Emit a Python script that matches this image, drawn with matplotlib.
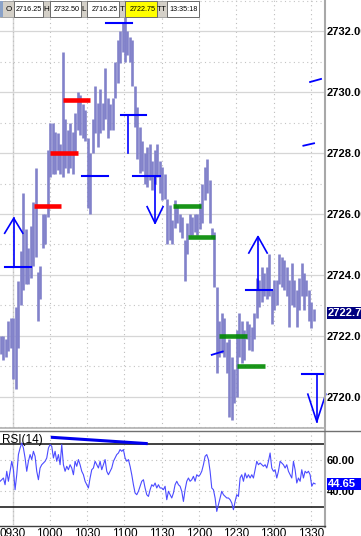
import numpy as np
import matplotlib
matplotlib.use("Agg")
import matplotlib.pyplot as plt
from matplotlib.lines import Line2D
from matplotlib.patches import Rectangle
import matplotlib.transforms as mtransforms

plt.rcParams['font.family'] = ['Liberation Sans', 'DejaVu Sans']

# ---------------- data ----------------
bar_first_time = 560.5      # minutes after midnight (09:20:30)
bar_minutes = 2.0
bar_high = [2722.0, 2722.0, 2721.9, 2722.5, 2722.6, 2722.6, 2722.95, 2723.8, 2724.8, 2726.7,
            2725.5, 2724.9, 2725.6, 2726.4, 2727.5, 2724.1, 2724.3, 2726.0, 2726.0, 2728.1,
            2729.0, 2729.0, 2728.7, 2728.65, 2728.3, 2731.3, 2729.1, 2728.75, 2729.0, 2728.7,
            2729.3, 2730.0, 2729.9, 2729.6, 2729.4, 2728.5, 2728.0, 2729.1, 2730.2, 2729.65,
            2730.1, 2729.65, 2730.8, 2729.8, 2729.6, 2729.8, 2731.0, 2731.7, 2732.0, 2732.25,
            2732.5, 2732.0, 2731.8, 2731.7, 2730.2, 2729.5, 2728.85, 2728.4, 2728.0, 2728.2,
            2728.3, 2727.75, 2728.1, 2728.3, 2727.75, 2727.55, 2727.3, 2726.5, 2726.3, 2725.8,
            2726.45, 2726.3, 2726.0, 2725.9, 2725.15, 2725.7, 2726.0, 2725.9, 2726.0, 2726.0,
            2726.35, 2727.0, 2727.55, 2727.8, 2727.1, 2725.55, 2725.4, 2723.6, 2722.5, 2722.75,
            2722.6, 2721.8, 2721.9, 2721.3, 2720.9, 2722.2, 2722.75, 2722.5, 2722.2, 2722.5,
            2722.4, 2722.3, 2722.75, 2723.9, 2723.85, 2724.25, 2724.05, 2724.25, 2724.7, 2723.5,
            2723.85, 2723.85, 2724.7, 2724.6, 2724.5, 2724.25, 2723.85, 2724.4, 2723.85, 2723.5,
            2723.9, 2724.4, 2724.05, 2723.85, 2723.5, 2723.1, 2722.9]
bar_low = [2721.4, 2721.2, 2721.3, 2721.5, 2721.6, 2720.6, 2720.25, 2721.6, 2723.0, 2723.5,
           2723.7, 2723.7, 2723.9, 2724.3, 2724.6, 2722.5, 2723.2, 2724.9, 2725.0, 2725.9,
           2727.2, 2727.3, 2727.3, 2727.45, 2727.3, 2727.2, 2727.5, 2727.35, 2727.5, 2727.3,
           2728.0, 2728.75, 2728.6, 2728.5, 2728.4, 2726.2, 2726.0, 2728.0, 2728.65, 2728.2,
           2728.65, 2728.75, 2729.1, 2728.5, 2728.75, 2728.75, 2729.8, 2730.3, 2730.95, 2731.3,
           2731.0, 2731.2, 2731.0, 2730.2, 2728.85, 2727.8, 2727.35, 2727.4, 2727.0, 2726.9,
           2727.1, 2726.8, 2727.0, 2727.2, 2726.7, 2726.45, 2726.5, 2725.0, 2725.15, 2725.0,
           2725.55, 2725.7, 2725.4, 2725.2, 2723.8, 2724.7, 2725.3, 2725.3, 2725.4, 2725.3,
           2725.5, 2725.7, 2726.45, 2726.7, 2725.7, 2725.2, 2723.6, 2720.8, 2721.3, 2721.45,
           2721.3, 2720.8, 2719.35, 2719.25, 2719.8, 2720.0, 2721.3, 2721.1, 2721.2, 2721.9,
           2721.55, 2721.5, 2721.9, 2722.6, 2722.95, 2723.1, 2723.3, 2723.2, 2723.3, 2722.4,
           2722.85, 2723.0, 2723.7, 2723.6, 2723.5, 2723.3, 2722.3, 2723.0, 2722.95, 2722.3,
           2722.85, 2723.3, 2722.85, 2723.3, 2722.5, 2722.25, 2722.5]

rsi_first_time = 560.0
rsi_minutes = 1.341
rsi_values = [46.3, 47.3, 48.4, 44.1, 52.7, 46.3, 52.7, 59.1, 53.7, 40.9,
              50.5, 63.4, 67.6, 70.8, 67.6, 61.2, 52.7, 59.1, 63.4, 60.2,
              65.5, 62.3, 52.7, 47.3, 54.8, 56.9, 58.0, 59.1, 61.2, 67.6,
              69.8, 68.7, 61.2, 65.5, 59.1, 63.4, 56.9, 69.8, 56.9, 52.7,
              55.9, 53.7, 56.9, 54.8, 50.5, 59.1, 55.9, 60.2, 56.9, 52.7,
              50.5, 46.3, 44.1, 42.0, 48.4, 53.7, 54.8, 59.1, 56.9, 54.8,
              59.1, 53.7, 56.9, 60.2, 52.7, 50.5, 52.7, 54.8, 59.1, 61.2,
              63.4, 64.4, 66.6, 65.5, 66.6, 61.2, 59.1, 60.2, 55.9, 50.5,
              44.1, 38.8, 37.7, 39.9, 43.1, 46.3, 47.3, 42.0, 37.7, 36.6,
              40.9, 44.1, 43.1, 45.2, 42.0, 44.1,
              42.0, 42.0, 40.9, 43.1, 34.5, 39.9, 37.7, 35.6, 38.8, 44.1,
              46.3, 44.1, 43.1, 39.9, 33.4, 40.9, 46.3, 48.4, 46.3, 47.3,
              49.5, 46.3, 50.5, 49.5, 50.5, 52.7, 56.9, 62.3, 63.4, 60.2,
              52.7, 42.0, 40.9, 35.6, 27.0, 31.3, 35.6, 39.9, 37.7, 36.6,
              35.6, 35.6, 34.5, 32.4, 28.1, 33.4, 37.7, 36.6, 48.4, 50.5,
              46.3, 51.6, 48.4, 50.5, 48.4, 50.5, 48.4, 53.7, 59.1, 56.9,
              58.0, 56.9, 55.9, 56.9, 54.8, 59.1, 64.4, 54.8, 52.7, 53.7,
              48.4, 52.7, 59.1, 58.0, 56.9, 54.8, 56.9, 52.7, 50.5, 48.4,
              59.1, 53.7, 45.2, 48.4, 46.3, 53.7, 48.4, 52.7, 51.6, 52.7,
              50.5, 43.1, 45.2, 44.65]

last_price = 2722.75
last_rsi = 44.65

time_ticks = [570, 600, 630, 660, 690, 720, 750, 780, 810]
time_labels = ['0930', '1000', '1030', '1100', '1130', '1200', '1230', '1300', '1330']
price_ticks = [2720, 2722, 2724, 2726, 2728, 2730, 2732]
price_minor = [2719, 2721, 2723, 2725, 2727, 2729, 2731, 2733]
rsi_ticks = [40, 60]
rsi_bands = [30, 70]
rsi_label = 'RSI(14)'

header_labels = ['O', 'H', 'L', 'T', 'TT']
header_values = ['2716.25', '2732.50', '2716.25', '2722.75', '13:35:18']

# drawn annotations (time in minutes after midnight, price)
red_levels = [2729.75, 2728.0, 2726.25]
red_starts = [610.7, 600.2, 587.4]
red_ends = [632.4, 622.8, 609.1]
green_levels = [2726.25, 2725.25, 2722.0, 2721.0]
green_starts = [698.9, 711.0, 736.4, 750.9]
green_ends = [721.7, 733.2, 759.0, 773.2]
blue_levels = [2732.25, 2729.25, 2727.25, 2727.25, 2724.25, 2723.5, 2720.75]
blue_starts = [645.3, 657.1, 625.7, 666.7, 564.0, 757.9, 802.7]
blue_ends = [666.2, 677.5, 646.6, 688.7, 584.7, 778.6, 821.5]
stem_times = [663.2, 684.7, 571.0, 767.5, 814.8]
stem_from = [2729.25, 2727.25, 2724.25, 2723.5, 2720.75]
stem_to = [2728.0, 2725.7, 2725.86, 2725.26, 2719.19]
head_len = [0.0, 0.54, 0.49, 0.54, 0.9]
head_half = [0.0, 6.4, 7.3, 7.4, 7.2]
tick_t0 = [809.4, 804.0, 730.3]
tick_t1 = [818.2, 812.6, 739.2]
tick_p0 = [2730.33, 2728.24, 2721.38]
tick_p1 = [2730.43, 2728.32, 2721.49]
rsi_trend_t = [600.8, 678.8]
rsi_trend_v = [74.5, 70.4]

# ---------------- figure ----------------
W, H = 361, 536
fig = plt.figure(figsize=(W / 100, H / 100), dpi=100, facecolor='white')

def fx(px):
    return px / W

def fy(py):
    return 1 - py / H

plot_right = 325
ax = fig.add_axes([0, fy(428), fx(plot_right), 428 / H])
rax = fig.add_axes([0, fy(525), fx(plot_right), 94 / H])

x_left = 559.94
x_right = x_left + plot_right / 1.243
for a in (ax, rax):
    a.set_xlim(x_left, x_right)
    for s in a.spines.values():
        s.set_visible(False)
    a.set_facecolor('white')

ax.set_ylim(2718.98, 2733.02)
rax.set_ylim(18.3, 78.5)

# grids
ax.set_xticks(time_ticks)
ax.tick_params(axis='x', length=0, labelbottom=False)
ax.yaxis.tick_right()
ax.set_yticks(price_ticks)
ax.set_yticklabels([f'{v:.2f}' for v in price_ticks], fontweight='bold', fontsize=8)
ax.set_yticks(price_minor, minor=True)
ax.tick_params(axis='y', which='both', length=0, pad=1.5)
ax.grid(axis='y', which='major', color='#d6d6d6', lw=0.9, ls='-')
ax.grid(axis='y', which='minor', color='#c4c4c4', lw=0.8, ls=(0, (1, 3)))
ax.grid(axis='x', which='major', color='#bdbdbd', lw=0.8, ls=(0, (1, 3)))
ax.axvline(time_ticks[0], color='#d6d6d6', lw=1.0, zorder=0.5)
ax.set_axisbelow(True)

rax.set_xticks(time_ticks)
rax.set_xticklabels(time_labels, fontsize=8.5)
rax.tick_params(axis='x', length=0, pad=2.2)
rax.yaxis.tick_right()
rax.set_yticks(rsi_ticks)
rax.set_yticklabels([f'{v:.2f}' for v in rsi_ticks], fontweight='bold', fontsize=8)
rax.tick_params(axis='y', length=0, pad=1.5)
rax.grid(axis='both', color='#bdbdbd', lw=0.8, ls=(0, (1, 3)))
rax.axvline(time_ticks[0], color='#d6d6d6', lw=1.0, zorder=0.5)
rax.set_axisbelow(True)

# price bars
bar_t = bar_first_time + bar_minutes * np.arange(len(bar_high))
ax.vlines(bar_t, bar_low, bar_high, color='#8282ca', lw=1.9, zorder=2)

# annotations
for lv, t0, t1 in zip(red_levels, red_starts, red_ends):
    ax.plot([t0, t1], [lv, lv], color='#ff0000', lw=3.3, solid_capstyle='butt', zorder=4)
for lv, t0, t1 in zip(green_levels, green_starts, green_ends):
    ax.plot([t0, t1], [lv, lv], color='#008a00', lw=3.3, solid_capstyle='butt', zorder=4, alpha=0.9)
for lv, t0, t1 in zip(blue_levels, blue_starts, blue_ends):
    ax.plot([t0, t1], [lv, lv], color='#0000ff', lw=1.5, zorder=4, clip_on=False)
for t, p0, p1, hl, hw in zip(stem_times, stem_from, stem_to, head_len, head_half):
    ax.plot([t, t], [p0, p1], color='#0000ff', lw=1.2, zorder=4)
    if hl > 0:
        sgn = 1 if p1 > p0 else -1
        base = p1 - sgn * hl
        ax.plot([t - hw, t, t + hw], [base, p1, base], color='#0000ff', lw=1.2, zorder=4,
                clip_on=False)
for a0, a1, b0, b1 in zip(tick_t0, tick_t1, tick_p0, tick_p1):
    ax.plot([a0, a1], [b0, b1], color='#0000ff', lw=1.3, zorder=4)

# RSI
rsi_t = rsi_first_time + rsi_minutes * np.arange(len(rsi_values))
for b in rsi_bands:
    rax.axhline(b, color='#202020', lw=1.2, zorder=1)
rax.plot(rsi_t, rsi_values, color='#4b4bff', lw=0.8, zorder=3)
rax.plot(rsi_trend_t, rsi_trend_v, color='#0000ee', lw=2.2, zorder=4, solid_capstyle='butt')
rax.text(fx(2) / fx(plot_right), 0.965, rsi_label, transform=rax.transAxes,
         ha='left', va='top', fontsize=8.5, color='black', zorder=5)

# last value boxes
bt = mtransforms.blended_transform_factory(fig.transFigure, ax.transData)
h_price = 12 / 30.5
ax.add_patch(Rectangle((fx(326.5), last_price - h_price / 2), fx(40), h_price,
                       transform=bt, facecolor='#000080', edgecolor='none',
                       clip_on=False, zorder=6))
ax.text(fx(327.5), last_price, f'{last_price:.2f}', transform=bt, color='white',
        fontweight='bold', fontsize=8, ha='left', va='center', zorder=7, clip_on=False)

bt2 = mtransforms.blended_transform_factory(fig.transFigure, rax.transData)
h_rsi = 12 / 1.56
rax.add_patch(Rectangle((fx(326.5), last_rsi - h_rsi / 2), fx(40), h_rsi,
                        transform=bt2, facecolor='#0000ff', edgecolor='none',
                        clip_on=False, zorder=6))
rax.text(fx(328), last_rsi, f'{last_rsi:.2f}', transform=bt2, color='white',
         fontweight='bold', fontsize=8, ha='left', va='center', zorder=7, clip_on=False)

# frame lines
fig.add_artist(Line2D([fx(325.2), fx(325.2)], [fy(0), fy(527)], color='#a8a8a8', lw=1.5))
fig.add_artist(Line2D([0, fx(325)], [fy(428.3), fy(428.3)], color='#b0b0b0', lw=1.2))
fig.add_artist(Line2D([0, 1], [fy(430.8), fy(430.8)], color='#707070', lw=1.0))
fig.add_artist(Line2D([0, fx(325)], [fy(526), fy(526)], color='#404040', lw=1.0))

# header strip
hdr_size = 5.2
label_cells = [(0, 14), (43, 50), (81, 87), (119, 125), (157, 167)]
value_cells = [(14, 43), (50, 81), (87, 119), (125, 157), (167, 199)]
value_colors = ['white', 'white', 'white', '#ffff00', 'white']
top, bot = 1, 17
for (x0, x1), lab in zip(label_cells, header_labels):
    fig.add_artist(Rectangle((fx(x0), fy(bot)), fx(x1 - x0), (bot - top) / H,
                             transform=fig.transFigure, facecolor='#d4d0c8',
                             edgecolor='#9a9a9a', lw=0.6, zorder=10))
    cx = (x0 + x1) / 2 if lab != 'O' else 8.5
    fig.text(fx(cx), fy((top + bot) / 2 + 0.5), lab, ha='center', va='center',
             fontsize=hdr_size + 0.6, color='black', zorder=11)
fig.add_artist(Rectangle((0, fy(bot)), fx(3), (bot - top) / H, transform=fig.transFigure,
                         facecolor='#8aa2c8', edgecolor='none', zorder=10.5))
for (x0, x1), val, c in zip(value_cells, header_values, value_colors):
    fig.add_artist(Rectangle((fx(x0), fy(bot)), fx(x1 - x0), (bot - top) / H,
                             transform=fig.transFigure, facecolor=c,
                             edgecolor='#6a6a6a', lw=0.7, zorder=10))
    fig.text(fx(x1 - 1.5), fy((top + bot) / 2 + 0.5), val, ha='right', va='center',
             fontsize=hdr_size, color='black', zorder=11)

fig.savefig('out.png', dpi=100, facecolor='white')
